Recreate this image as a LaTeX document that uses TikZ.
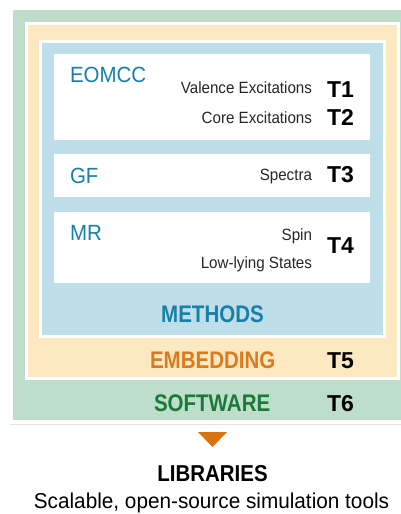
\documentclass[tikz,border=0pt]{standalone}
\usepackage{fontspec}
\usetikzlibrary{fit}
\setmainfont{Liberation Sans}
\newfontfamily\condA[FakeStretch=0.93]{Liberation Sans}
\newfontfamily\condB[FakeStretch=0.855]{Liberation Sans}
\newfontfamily\condC[FakeStretch=0.89]{Liberation Sans}
\newfontfamily\condD[FakeStretch=0.965]{Liberation Sans}
\definecolor{bggreen}{HTML}{BFDDCB}
\definecolor{bgyellow}{HTML}{FCE9C2}
\definecolor{bgblue}{HTML}{BEDFE9}
\definecolor{txtblue}{HTML}{1780A8}
\definecolor{txtorange}{HTML}{D97B1E}
\definecolor{txtgreen}{HTML}{1A7A3A}
\definecolor{triorange}{HTML}{D9730D}
\definecolor{rulegray}{HTML}{E2E2E2}
\tikzset{
  layer/.style={inner sep=0, outer sep=0, draw=white, line width=3pt},
  whitebox/.style={fill=white, inner sep=0, outer sep=0},
  lbl/.style={inner sep=0, outer sep=0, anchor=base west},
  small/.style={inner sep=0, outer sep=0, anchor=base east, font=\condA\fontsize{16.3}{18}\selectfont, text=black!85},
  method/.style={lbl, font=\condA\fontsize{22}{24}\selectfont, text=txtblue},
  tlabel/.style={lbl, font=\bfseries\fontsize{23}{25}\selectfont, text=black},
  head/.style={inner sep=0, outer sep=0, font=\condB\bfseries\fontsize{24}{26}\selectfont}
}
\begin{document}
\begin{tikzpicture}[x=1pt,y=-1pt]
\useasboundingbox (0,0) rectangle (401,514);
% layers
\node[inner sep=0, outer sep=0, fill=bggreen, fit={(13,10) (401,420)}] (software) {};
\node[layer, fill=bgyellow, fit={(26,23.5) (398.5,378.5)}] (embed) {};
\node[layer, fill=bgblue, fit={(40,41.5) (384.5,336.5)}] (methods) {};
\node[whitebox, fit={(54,54) (370,140)}] (eomccbox) {};
\node[whitebox, fit={(54,154) (370,197)}] (gfbox) {};
\node[whitebox, fit={(54,212) (370,283)}] (mrbox) {};
% method names
\node[method] (eomcc) at (70,82) {EOMCC};
\node[method] (gf) at (70,183) {GF};
\node[method] (mr) at (70,240) {MR};
% small texts
\node[small] (val) at (312,93) {Valence Excitations};
\node[small] (core) at (312,123) {Core Excitations};
\node[small] (spec) at (312,180) {Spectra};
\node[small] (spin) at (312,240) {Spin};
\node[small] (low) at (312,268) {Low-lying States};
% T labels
\node[tlabel] (t1) at (327,97) {T1};
\node[tlabel] (t2) at (327,125) {T2};
\node[tlabel] (t3) at (327,182) {T3};
\node[tlabel] (t4) at (327,253) {T4};
\node[tlabel] (t5) at (327,368) {T5};
\node[tlabel] (t6) at (327,411) {T6};
% headers
\node[head, anchor=base, text=txtblue] (methodslbl) at (212.5,322) {METHODS};
\node[head, anchor=base west, text=txtorange] (embedlbl) at (150,368) {EMBEDDING};
\node[head, anchor=base west, text=txtgreen] (softlbl) at (154,411) {SOFTWARE};
% rule and triangle
\coordinate (ruleL) at (10,424);
\coordinate (ruleR) at (401,424);
\draw[rulegray, line width=1pt] (ruleL) -- (ruleR);
\fill[triorange] (198,432) -- (227,432) -- (212.5,447) -- cycle;
\node[inner sep=0, anchor=base, font=\condC\bfseries\fontsize{23}{25}\selectfont] (lib) at (212.5,481) {LIBRARIES};
\node[inner sep=0, anchor=base, font=\condD\fontsize{21.5}{24}\selectfont] (scal) at (211.5,508) {Scalable, open-source simulation tools};
\end{tikzpicture}
\end{document}
